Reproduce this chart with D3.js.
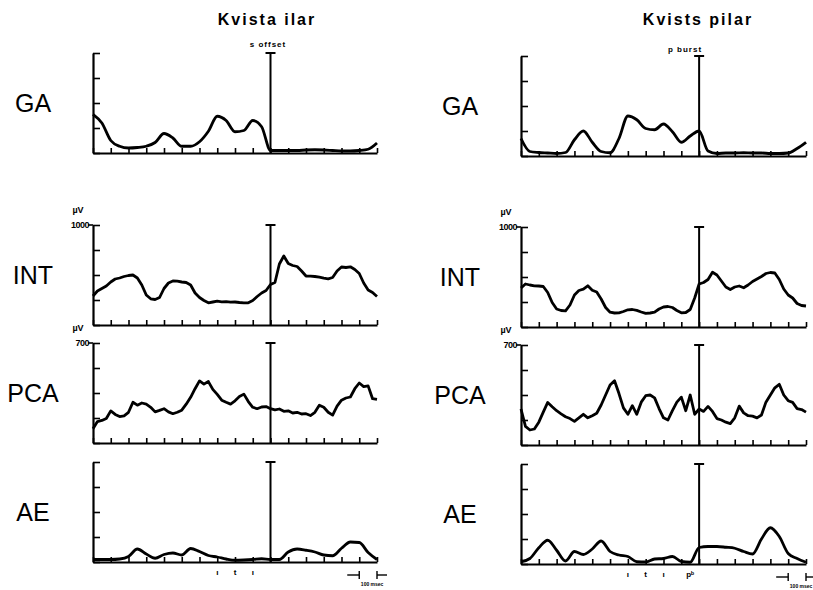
<!DOCTYPE html>
<html>
<head>
<meta charset="utf-8">
<script src="https://cdn.jsdelivr.net/npm/d3@7"></script>
<style>
  body { margin: 0; background: #fff; }
  svg { display: block; }
  text { font-family: "Liberation Sans", Arial, sans-serif; fill: #000; }
</style>
</head>
<body>
<svg width="813" height="590"></svg>
<script>
// sample times, ms relative to the marked event
const tCoarse = d3.range(-1000, 601, 50);
const tFine = d3.range(-1000, 601, 25);

const panelNames = ["GA", "INT", "PCA", "AE"];
const columnTitles = ["Kvista ilar", "Kvists pilar"];
const eventLabels = ["s offset", "p burst"];

// y scales of each panel (GA and AE in tick units)
const yDomains = [[0, 4], [0, 1000], [0, 700], [0, 4]];
const yTicks = [[0, 1, 2, 3, 4], [0, 250, 500, 750, 1000], [0, 175, 350, 525, 700], [0, 1, 2, 3, 4]];
const topLabels = [null, "1000", "700", null];

// Kvista ilar
const gaLeft = [1.55, 1.2, 0.5, 0.27, 0.2, 0.22, 0.27, 0.42, 0.78, 0.6, 0.27, 0.27, 0.45, 0.87, 1.47, 1.3,
  0.85, 0.9, 1.3, 1.05, 0.1, 0.1, 0.1, 0.1, 0.12, 0.13, 0.12, 0.1, 0.08, 0.08, 0.1, 0.15, 0.4];
const intLeft = [290, 340, 365, 390, 430, 460, 470, 485, 495, 500, 470, 400, 300, 262, 255, 275, 365, 420,
  440, 438, 430, 425, 400, 320, 275, 245, 222, 230, 238, 232, 234, 228, 230, 225, 222, 222, 245, 285,
  320, 345, 405, 425, 610, 690, 615, 595, 585, 540, 490, 488, 485, 478, 468, 462, 475, 540, 580, 575,
  582, 555, 515, 420, 350, 325, 285];
const pcaLeft = [100, 150, 158, 172, 225, 200, 185, 190, 215, 285, 265, 280, 272, 250, 218, 228, 240, 218,
  205, 215, 230, 272, 320, 380, 435, 412, 430, 375, 340, 300, 285, 272, 295, 325, 342, 290, 250, 240,
  252, 255, 240, 232, 238, 222, 225, 210, 215, 203, 205, 192, 215, 265, 250, 215, 195, 258, 300, 315,
  322, 380, 420, 395, 400, 310, 305];
const aeLeft = [0.1, 0.1, 0.1, 0.12, 0.22, 0.52, 0.32, 0.15, 0.3, 0.36, 0.28, 0.54, 0.42, 0.26, 0.2, 0.12,
  0.07, 0.08, 0.1, 0.13, 0.1, 0.1, 0.4, 0.52, 0.47, 0.4, 0.28, 0.25, 0.55, 0.8, 0.78, 0.38, 0.1];

// Kvists pilar
const gaRight = [0.7, 0.18, 0.14, 0.12, 0.1, 0.14, 0.65, 1.0, 0.55, 0.18, 0.13, 0.7, 1.6, 1.45, 1.1, 1.05,
  1.28, 0.97, 0.55, 0.8, 1.0, 0.2, 0.1, 0.12, 0.12, 0.13, 0.12, 0.12, 0.1, 0.1, 0.12, 0.3, 0.55];
const intRight = [390, 430, 420, 412, 410, 405, 345, 245, 180, 165, 162, 220, 320, 365, 378, 412, 368, 350,
  280, 195, 148, 140, 142, 155, 172, 175, 166, 150, 136, 140, 148, 180, 200, 205, 195, 165, 142, 145,
  175, 290, 430, 445, 475, 548, 520, 460, 400, 375, 400, 410, 392, 420, 455, 480, 505, 535, 545, 540,
  475, 380, 320, 290, 235, 215, 210];
const pcaRight = [252, 130, 105, 112, 160, 230, 298, 268, 240, 218, 198, 185, 165, 190, 215, 190, 205, 222,
  280, 350, 420, 450, 360, 260, 215, 275, 215, 300, 345, 350, 330, 255, 190, 175, 240, 300, 335, 240,
  350, 215, 252, 235, 270, 235, 185, 175, 160, 150, 190, 272, 225, 205, 202, 190, 210, 300, 350, 400,
  425, 350, 310, 298, 255, 248, 230];
const aeRight = [0.09, 0.22, 0.65, 0.95, 0.55, 0.12, 0.5, 0.38, 0.6, 0.92, 0.5, 0.36, 0.3, 0.09, 0.08, 0.2,
  0.22, 0.3, 0.1, 0.07, 0.66, 0.7, 0.7, 0.67, 0.63, 0.5, 0.4, 1.0, 1.45, 1.1, 0.42, 0.22, 0.07];

// segment marks under the AE panel
const marksLeft = [-300, -200, -100];
const markTextLeft = ["ı", "t", "ı"];
const marksRight = [-400, -300, -200, -50];
const markTextRight = ["ı", "t", "ı", "pᵇ"];

const columns = [
  { x0: 93, x1: 377, tops: [53, 225, 343, 462], h: 100, labelX: 33, titleX: 267, eventX: 268, eventY: 47,
    series: [gaLeft, intLeft, pcaLeft, aeLeft], marks: marksLeft, markText: markTextLeft },
  { x0: 521, x1: 806, tops: [56, 227, 345, 464], h: 100, labelX: 460, titleX: 698, eventX: 685, eventY: 52,
    series: [gaRight, intRight, pcaRight, aeRight], marks: marksRight, markText: markTextRight }
];

const svg = d3.select("svg");

columns.forEach((col, ci) => {
  const x = d3.scaleLinear().domain([-1000, 600]).range([col.x0, col.x1]);

  // column title and event label
  svg.append("text")
      .attr("x", col.titleX).attr("y", 25)
      .attr("text-anchor", "middle")
      .attr("font-size", 16).attr("font-weight", "bold")
      .attr("letter-spacing", 2)
      .text(columnTitles[ci]);
  svg.append("text")
      .attr("x", col.eventX).attr("y", col.eventY)
      .attr("text-anchor", "middle")
      .attr("font-size", 8).attr("font-weight", "bold")
      .attr("letter-spacing", 1)
      .text(eventLabels[ci]);

  panelNames.forEach((name, pi) => {
    const top = col.tops[pi];
    const bottom = top + col.h;
    const y = d3.scaleLinear().domain(yDomains[pi]).range([bottom, top]);
    const data = col.series[pi];
    const times = data.length === tFine.length ? tFine : tCoarse;
    const g = svg.append("g");

    // panel name
    g.append("text")
        .attr("x", col.labelX).attr("y", top + 59)
        .attr("text-anchor", "middle")
        .attr("font-size", 25)
        .text(name);

    // y axis, ticks pointing inward
    g.append("g")
        .attr("transform", `translate(${col.x0},0)`)
        .call(d3.axisLeft(y).tickValues(yTicks[pi]).tickSize(-7).tickSizeOuter(0).tickFormat(""))
        .call(a => a.select(".domain").attr("stroke-width", 2.2))
        .call(a => a.selectAll(".tick line").attr("stroke-width", 1.6));

    // x axis, a tick every 100 ms
    g.append("g")
        .attr("transform", `translate(0,${bottom})`)
        .call(d3.axisBottom(x).tickValues(d3.range(-1000, 601, 100)).tickSize(-5).tickSizeOuter(0).tickFormat(""))
        .call(a => a.select(".domain").attr("stroke-width", 2.2))
        .call(a => a.selectAll(".tick line").attr("stroke-width", 1.6));

    // scale labels of the µV panels
    if (topLabels[pi]) {
      g.append("line")
          .attr("x1", col.x0 - 5).attr("x2", col.x0)
          .attr("y1", y(yDomains[pi][1])).attr("y2", y(yDomains[pi][1]))
          .attr("stroke", "#000").attr("stroke-width", 1.6);
      g.append("text")
          .attr("x", col.x0 - 4).attr("y", y(yDomains[pi][1]) + 3)
          .attr("text-anchor", "end")
          .attr("font-size", 9).attr("font-weight", "bold").attr("letter-spacing", -0.5)
          .text(topLabels[pi]);
      g.append("text")
          .attr("x", col.x0 - 15).attr("y", top - 12)
          .attr("text-anchor", "middle")
          .attr("font-size", 9).attr("font-weight", "bold")
          .text("µV");
    }

    // trace
    const line = d3.line()
        .x((d, i) => x(times[i]))
        .y(d => y(d))
        .curve(times === tFine ? d3.curveLinear : d3.curveMonotoneX);
    g.append("path")
        .datum(data)
        .attr("fill", "none")
        .attr("stroke", "#000")
        .attr("stroke-width", 2.8)
        .attr("stroke-linejoin", "round")
        .attr("d", line);

    // event line with cap
    g.append("line")
        .attr("x1", x(0)).attr("x2", x(0))
        .attr("y1", bottom).attr("y2", top)
        .attr("stroke", "#000").attr("stroke-width", 2);
    g.append("line")
        .attr("x1", x(0) - 5).attr("x2", x(0) + 5)
        .attr("y1", top).attr("y2", top)
        .attr("stroke", "#000").attr("stroke-width", 2);

    // segment marks and 100 ms scale bar under AE
    if (name === "AE") {
      svg.append("g")
        .selectAll("text")
        .data(col.marks)
        .join("text")
          .attr("x", d => x(d))
          .attr("y", bottom + 13)
          .attr("text-anchor", "middle")
          .attr("font-family", "DejaVu Sans")
          .attr("font-size", 8).attr("font-weight", "bold")
          .text((d, i) => col.markText[i]);

      const sb = svg.append("g")
          .attr("stroke", "#000").attr("stroke-width", 1.4);
      const ya = bottom + 13;
      sb.append("line").attr("x1", x(500) - 12).attr("x2", x(500)).attr("y1", ya).attr("y2", ya);
      sb.append("line").attr("x1", x(500)).attr("x2", x(500)).attr("y1", ya - 4).attr("y2", ya + 4);
      sb.append("line").attr("x1", x(600)).attr("x2", x(600) + 10).attr("y1", ya).attr("y2", ya);
      sb.append("line").attr("x1", x(600)).attr("x2", x(600)).attr("y1", ya - 4).attr("y2", ya + 4);
      svg.append("text")
          .attr("x", x(550) + 4).attr("y", bottom + 24)
          .attr("text-anchor", "middle")
          .attr("font-size", 5).attr("font-weight", "bold")
          .text("100 msec");
    }
  });
});
</script>
</body>
</html>
